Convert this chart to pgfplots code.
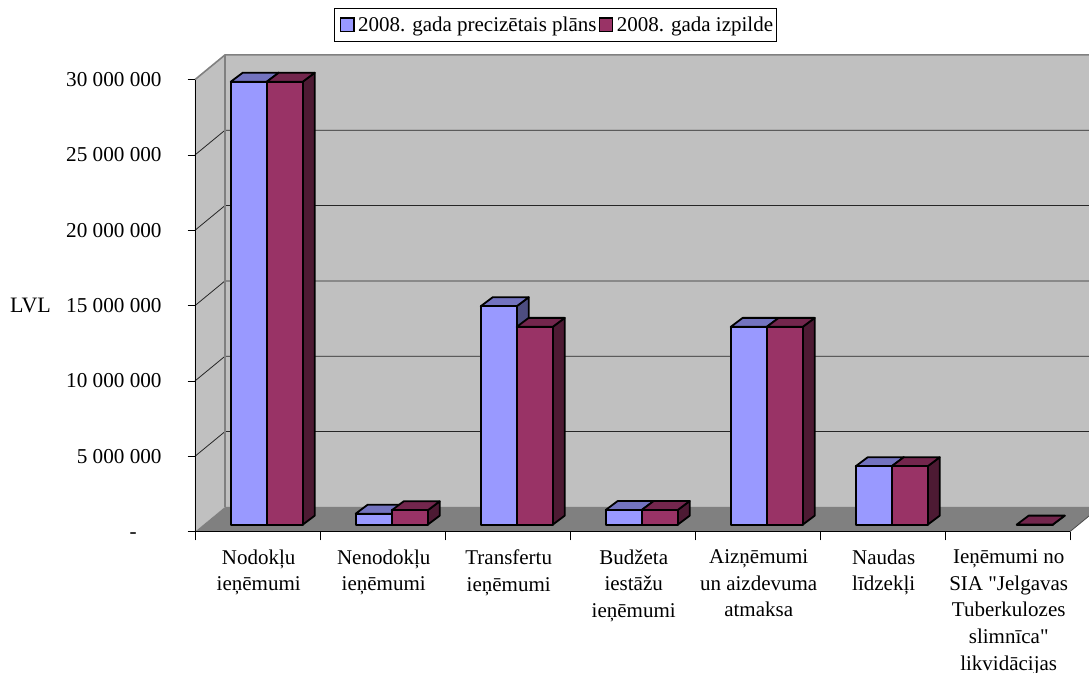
\documentclass[border=0pt]{standalone}
\usepackage{pgfplots}
\pgfplotsset{compat=1.18}
\usepackage{fontspec}
\setmainfont{Liberation Serif}
\newfontfamily\plainq{Liberation Serif}
\definecolor{planF}{HTML}{9999FF}
\definecolor{planT}{HTML}{7373BF}
\definecolor{planS}{HTML}{4D4D80}
\definecolor{actF}{HTML}{993366}
\definecolor{actT}{HTML}{73264D}
\definecolor{actS}{HTML}{4D1A33}
\definecolor{wall}{HTML}{C0C0C0}
\definecolor{flr}{HTML}{808080}
% one face-set of a 3D column: left x (axis units), height in LVL, colours
\newcommand\columnthree[5]{%
  \begingroup
  \pgfkeys{/pgf/fpu=true,/pgf/fpu/output format=fixed}%
  \pgfmathsetmacro\xa{#1}%
  \pgfmathsetmacro\xb{#1+0.288}%
  \pgfmathsetmacro\xc{#1+0.096}%
  \pgfmathsetmacro\xd{#1+0.384}%
  \pgfmathsetmacro\yb{458000}%
  \pgfmathsetmacro\yc{458000+597000}%
  \pgfmathsetmacro\yt{458000+#2}%
  \pgfmathsetmacro\yu{458000+597000+#2}%
  \pgfkeys{/pgf/fpu=false}%
  \addplot[forget plot,fill=#5,draw=black,line width=1.35pt,line join=round] coordinates {(\xb,\yb) (\xd,\yc) (\xd,\yu) (\xb,\yt)} --cycle;
  \addplot[forget plot,fill=#4,draw=black,line width=1.35pt,line join=round] coordinates {(\xa,\yt) (\xb,\yt) (\xd,\yu) (\xc,\yu)} --cycle;
  \addplot[forget plot,fill=#3,draw=black,line width=1.35pt,line join=round] coordinates {(\xa,\yb) (\xb,\yb) (\xb,\yt) (\xa,\yt)} --cycle;
  \endgroup
}
\begin{document}
\begin{tikzpicture}
\path[use as bounding box] (-146.25pt,-105.3pt) rectangle (670.5pt,398.7pt);
\begin{axis}[
  scale only axis,
  width=656.25pt, height=339pt,
  xmin=0, xmax=7, ymin=0, ymax=30000000,
  clip=false,
  axis on top,
  scaled y ticks=false,
  axis x line*=bottom, axis y line*=left,
  axis line style={black,line width=0.6pt,-},
  tick align=outside,
  major tick length=5.5pt,
  minor tick length=6.5pt,
  tick style={black,line width=0.6pt},
  xtick style={draw=none},
  minor x tick style={draw=black,line width=0.6pt},
  xtick={0.5,1.5,2.5,3.5,4.5,5.5,6.5},
  minor xtick={0,1,2,3,4,5,6,7},
  xticklabels={{Nodokļu\\ieņēmumi},{Nenodokļu\\ieņēmumi},{Transfertu\\ieņēmumi},{Budžeta\\iestāžu\\ieņēmumi},{Aizņēmumi\\un aizdevuma\\atmaksa},{Naudas\\līdzekļi},{Ieņēmumi no\\SIA {\plainq"}Jelgavas\\Tuberkulozes\\slimnīca{\plainq"}\\likvidācijas}},
  xticklabel style={align=center,font=\fontsize{15.75}{20}\selectfont,anchor=north,xshift=0.9pt,yshift=-4.5pt},
  ytick={0,5000000,10000000,15000000,20000000,25000000,30000000},
  yticklabels={{\raisebox{-4.8pt}[0pt][0pt]{-}\rule{18.75pt}{0pt}},{5 000 000},{10 000 000},{15 000 000},{20 000 000},{25 000 000},{30 000 000}},
  yticklabel style={font=\fontsize{15.9}{20}\selectfont,xshift=-16pt},
  ylabel={LVL},
  ylabel style={rotate=-90,at={(axis description cs:-0.188,0.5)},anchor=center,font=\fontsize{16.5}{20}\selectfont},
  legend columns=2,
  legend style={at={(axis description cs:0.1589,1.158)},anchor=north west,draw=black,line width=0.6pt,font=\fontsize{15.75}{20}\selectfont,inner xsep=4pt,inner ysep=3pt,
    /tikz/every even column/.append style={column sep=-1pt},
    nodes={inner xsep=2.5pt,inner ysep=3pt}},
]
% walls and floor
\addplot[forget plot,fill=wall,draw=none] coordinates {(0,0) (0.24,1639000) (0.24,31639000) (0,30000000)} --cycle;
\addplot[forget plot,fill=wall,draw=none] coordinates {(0.24,1639000) (7.152,1639000) (7.152,31639000) (0.24,31639000)} --cycle;
\addplot[forget plot,fill=flr,draw=none] coordinates {(0,0) (0.24,1639000) (7.152,1639000) (7.152,1035000) (7,0)} --cycle;
% gridlines on the back wall and on the side wall
\addplot[forget plot,draw=black!85,line width=0.6pt] coordinates {(0,5000000) (0.24,6639000) (7.152,6639000)};
\addplot[forget plot,draw=black!85,line width=0.6pt] coordinates {(0,10000000) (0.24,11639000) (7.152,11639000)};
\addplot[forget plot,draw=black!85,line width=0.6pt] coordinates {(0,15000000) (0.24,16639000) (7.152,16639000)};
\addplot[forget plot,draw=black!85,line width=0.6pt] coordinates {(0,20000000) (0.24,21639000) (7.152,21639000)};
\addplot[forget plot,draw=black!85,line width=0.6pt] coordinates {(0,25000000) (0.24,26639000) (7.152,26639000)};
\addplot[forget plot,draw=flr,line width=1.2pt] coordinates {(0,30000000) (0.24,31639000) (7.152,31639000)};
\addplot[forget plot,draw=flr,line width=1.2pt] coordinates {(0.24,1639000) (0.24,31639000)};
\addplot[forget plot,draw=black!70,line width=0.6pt] coordinates {(7,0) (7.152,1035000)};
% columns
\columnthree{0.2856}{29400000}{planF}{planT}{planS}
\columnthree{0.5736}{29400000}{actF}{actT}{actS}
\columnthree{1.2856}{730000}{planF}{planT}{planS}
\columnthree{1.5736}{956000}{actF}{actT}{actS}
\columnthree{2.2856}{14500000}{planF}{planT}{planS}
\columnthree{2.5736}{13130000}{actF}{actT}{actS}
\columnthree{3.2856}{975000}{planF}{planT}{planS}
\columnthree{3.5736}{975000}{actF}{actT}{actS}
\columnthree{4.2856}{13130000}{planF}{planT}{planS}
\columnthree{4.5736}{13130000}{actF}{actT}{actS}
\columnthree{5.2856}{3880000}{planF}{planT}{planS}
\columnthree{5.5736}{3880000}{actF}{actT}{actS}
\columnthree{6.5736}{5000}{actF}{actT}{actS}
% legend
\addlegendimage{legend image code/.code={\draw[fill=planF,draw=black,line width=1.2pt] (0pt,-5pt) rectangle (10pt,5pt);}}
\addlegendentry{2008. gada precizētais plāns}
\addlegendimage{legend image code/.code={\draw[fill=actF,draw=black,line width=1.2pt] (0pt,-5pt) rectangle (10pt,5pt);}}
\addlegendentry{2008. gada izpilde\kern-4pt}
\end{axis}
\end{tikzpicture}
\end{document}
